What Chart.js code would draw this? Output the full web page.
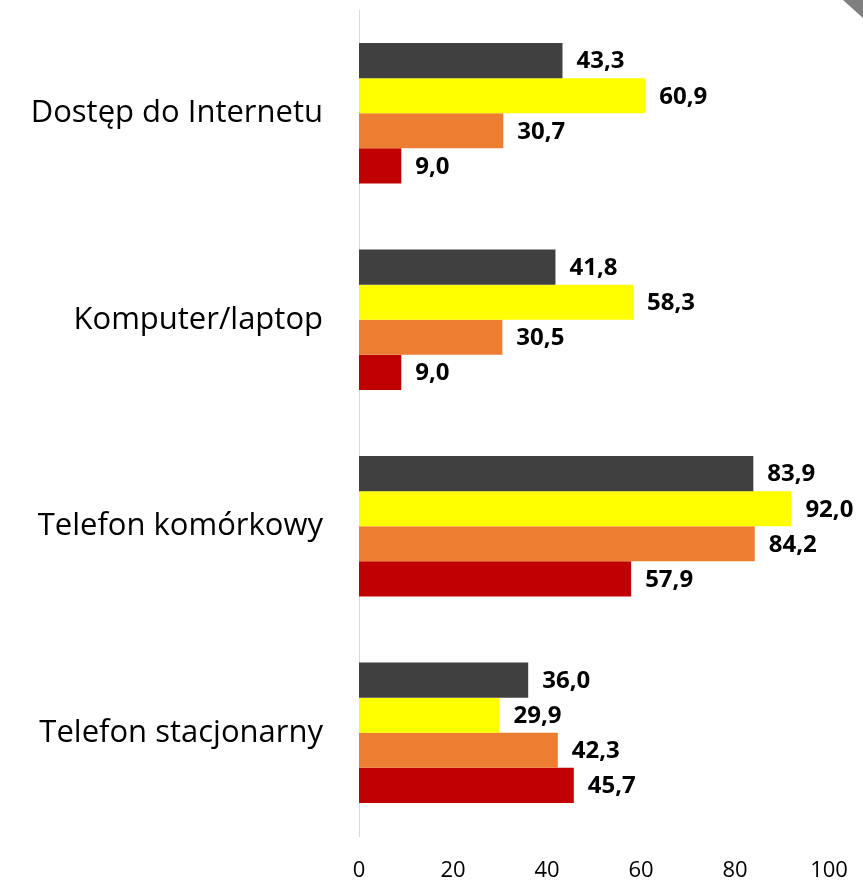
<!DOCTYPE html>
<html>
<head>
<meta charset="utf-8">
<script src="https://cdn.jsdelivr.net/npm/chart.js@4"></script>
<style>
  html, body { margin: 0; padding: 0; background: #fff; }
  #wrap { width: 863px; height: 884px; position: relative; }
</style>
</head>
<body>
<div id="wrap"><canvas id="chart"></canvas></div>
<script>
const categories = ['Dostęp do Internetu', 'Komputer/laptop', 'Telefon komórkowy', 'Telefon stacjonarny'];
const seriesA = [43.3, 41.8, 83.9, 36.0];
const seriesB = [60.9, 58.3, 92.0, 29.9];
const seriesC = [30.7, 30.5, 84.2, 42.3];
const seriesD = [9.0, 9.0, 57.9, 45.7];
const xTicks = [0, 20, 40, 60, 80, 100];

const colors = ['#404040', '#FFFF00', '#ED7D31', '#C00000'];
const fontFamily = '"Open Sans", Lato, sans-serif';

// value labels at the end of each bar, Polish decimal comma
const barLabels = {
  id: 'barLabels',
  afterDatasetsDraw(chart) {
    const ctx = chart.ctx;
    ctx.save();
    ctx.font = 'bold 24px ' + fontFamily;
    ctx.fillStyle = '#000';
    ctx.textBaseline = 'middle';
    ctx.textAlign = 'left';
    chart.data.datasets.forEach((ds, i) => {
      chart.getDatasetMeta(i).data.forEach((bar, j) => {
        ctx.fillText(ds.data[j].toFixed(1).replace('.', ','), bar.x + 14, bar.y + 1);
      });
    });
    ctx.restore();
  }
};

// grey corner in the top right
const corner = {
  id: 'corner',
  afterDraw(chart) {
    const ctx = chart.ctx;
    ctx.save();
    ctx.fillStyle = '#7F7F7F';
    ctx.beginPath();
    ctx.moveTo(843, 0);
    ctx.lineTo(863, 0);
    ctx.lineTo(863, 18);
    ctx.closePath();
    ctx.fill();
    ctx.restore();
  }
};

const ctx = document.getElementById('chart').getContext('2d');
new Chart(ctx, {
  type: 'bar',
  data: {
    labels: categories,
    datasets: [seriesA, seriesB, seriesC, seriesD].map((d, i) => ({
      data: d,
      backgroundColor: colors[i],
      borderWidth: 0,
      categoryPercentage: 0.68,
      barPercentage: 1.0
    }))
  },
  options: {
    indexAxis: 'y',
    responsive: true,
    maintainAspectRatio: false,
    animation: false,
    layout: { padding: { top: 10, right: 34, left: 0, bottom: 0 } },
    plugins: { legend: { display: false }, tooltip: { enabled: false } },
    scales: {
      x: {
        min: 0,
        max: 100,
        afterBuildTicks: s => { s.ticks = xTicks.map(v => ({ value: v })); },
        grid: { display: false, drawTicks: false },
        border: { display: false },
        ticks: { font: { size: 22, family: fontFamily }, color: '#000', padding: 22, maxRotation: 0 },
        afterFit: s => { s.height = 48; s.paddingLeft = 0; s.paddingRight = 0; }
      },
      y: {
        grid: { display: false, drawTicks: false },
        border: { display: true, color: '#D9D9D9', width: 1 },
        ticks: { font: { size: 31, family: fontFamily }, color: '#000', padding: 36 },
        afterFit: s => { s.width = 359; s.paddingTop = 0; s.paddingBottom = 0; }
      }
    }
  },
  plugins: [barLabels, corner]
});
</script>
</body>
</html>
